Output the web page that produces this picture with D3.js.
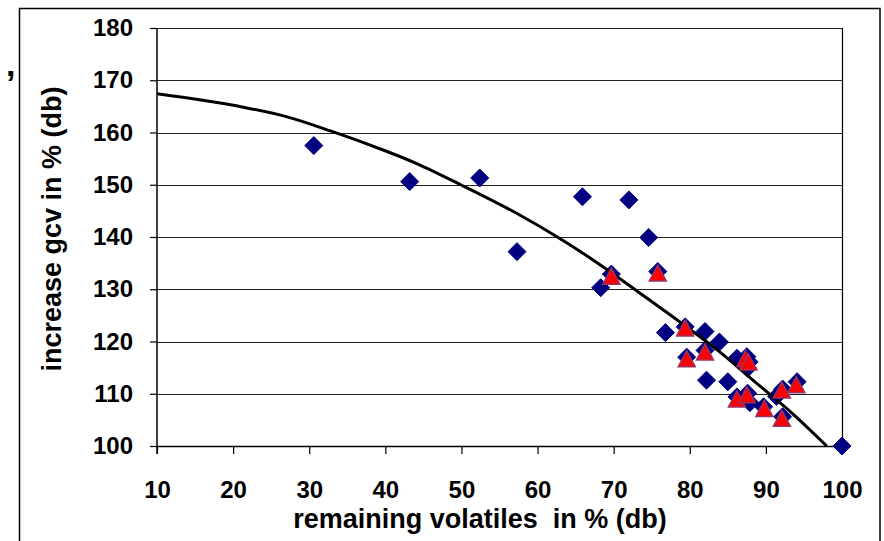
<!DOCTYPE html>
<html>
<head>
<meta charset="utf-8">
<script src="https://cdn.jsdelivr.net/npm/d3@7"></script>
<style>
  body { margin: 0; background: #fff; }
  svg { display: block; font-family: "Liberation Sans", Arial, sans-serif; }
</style>
</head>
<body>
<div id="chart"></div>
<script>
// remaining volatiles (x) / increase gcv (y), series 1: diamonds
const diamondX = [30.6, 43.2, 52.4, 57.3, 65.9, 72.0, 74.6, 75.8, 68.3, 69.7, 76.8, 79.4, 82.0, 83.9, 79.6, 82.0, 82.2, 85.0, 86.2, 87.5, 87.8, 87.6, 86.2, 87.6, 87.9, 89.7, 91.4, 92.2, 94.1, 92.2, 100];
const diamondY = [157.5, 150.6, 151.3, 137.2, 147.7, 147.1, 139.9, 133.4, 130.3, 132.9, 121.7, 122.8, 121.9, 119.9, 117.0, 118.3, 112.6, 112.3, 116.8, 117.1, 116.1, 114.9, 109.4, 110.1, 108.3, 107.5, 109.5, 110.9, 112.3, 105.6, 100];

// series 2: triangles
const triX = [69.7, 75.8, 79.4, 79.6, 82.0, 87.3, 87.7, 86.2, 87.5, 89.8, 92.1, 94.0, 92.1];
const triY = [132.5, 133.1, 122.6, 116.7, 118.0, 116.7, 116.1, 109.0, 109.8, 107.2, 110.7, 111.7, 105.3];

// trend line
const trendX = [10, 15.8, 21.5, 27.1, 32.8, 39.8, 44.2, 49.9, 57.3, 63.4, 68.3, 73.5, 79.2, 83.6, 88.8, 93.2, 98.0];
const trendY = [167.4, 166.2, 164.8, 163.0, 160.3, 156.6, 154.0, 150.0, 144.5, 139.3, 134.6, 129.2, 123.2, 118.4, 112.0, 106.6, 100.0];

const xTicks = [10, 20, 30, 40, 50, 60, 70, 80, 90, 100];
const yTicks = [100, 110, 120, 130, 140, 150, 160, 170, 180];

const width = 884;
const height = 541;
const plotLeft = 157, plotRight = 842, plotTop = 28, plotBottom = 446;

const x = d3.scaleLinear().domain([10, 100]).range([plotLeft, plotRight]);
const y = d3.scaleLinear().domain([100, 180]).range([plotBottom, plotTop]);

const svg = d3
  .select("#chart")
  .append("svg")
  .attr("width", width)
  .attr("height", height);

// outer frame (runs off the bottom of the picture)
svg
  .append("rect")
  .attr("x", 19.5)
  .attr("y", 8.5)
  .attr("width", 860.5)
  .attr("height", 600)
  .attr("fill", "none")
  .attr("stroke", "#000")
  .attr("stroke-width", 1.5);

svg
  .append("text")
  .attr("x", 6)
  .attr("y", 76)
  .style("font-size", "34px")
  .style("font-weight", "bold")
  .text(",");

// gridlines
svg
  .append("g")
  .selectAll("line")
  .data(yTicks.filter((d) => d > 100))
  .join("line")
  .attr("x1", plotLeft)
  .attr("x2", plotRight)
  .attr("y1", (d) => Math.round(y(d)) + 0.5)
  .attr("y2", (d) => Math.round(y(d)) + 0.5)
  .attr("stroke", "#222")
  .attr("stroke-width", 1.2);

// right border of plot area
svg
  .append("line")
  .attr("x1", plotRight + 0.5)
  .attr("x2", plotRight + 0.5)
  .attr("y1", plotTop)
  .attr("y2", plotBottom)
  .attr("stroke", "#000")
  .attr("stroke-width", 1.2);

const yAxis = svg
  .append("g")
  .attr("transform", `translate(${plotLeft},0)`)
  .call(d3.axisLeft(y).tickValues(yTicks).tickSize(7).tickSizeOuter(0).tickPadding(17));

const xAxis = svg
  .append("g")
  .attr("transform", `translate(0,${plotBottom})`)
  .call(d3.axisBottom(x).tickValues(xTicks).tickSize(8).tickSizeOuter(0).tickPadding(27));

[yAxis, xAxis].forEach((a) => {
  a.select(".domain").attr("stroke", "#000").attr("stroke-width", 1.5);
  a.selectAll(".tick line").attr("stroke", "#000").attr("stroke-width", 1.2);
  a.selectAll("text")
    .attr("fill", "#000")
    .style("font-size", "24px")
    .style("font-weight", "bold")
    .style("font-family", "'Liberation Sans', Arial, sans-serif");
});
// y axis extends down to the tick length, as in the picture
yAxis.select(".domain").attr("d", `M0,${plotTop}V${plotBottom + 8}`);

// clip for trend line
svg
  .append("clipPath")
  .attr("id", "plot-clip")
  .append("rect")
  .attr("x", plotLeft)
  .attr("y", plotTop)
  .attr("width", plotRight - plotLeft)
  .attr("height", plotBottom - plotTop);

const trend = trendX.map((d, i) => [d, trendY[i]]);
const line = d3
  .line()
  .x((d) => x(d[0]))
  .y((d) => y(d[1]))
  .curve(d3.curveCatmullRom);

const diamonds = diamondX.map((d, i) => [d, diamondY[i]]);
const tris = triX.map((d, i) => [d, triY[i]]);

const dHalf = 9;
svg
  .append("g")
  .selectAll("path")
  .data(diamonds)
  .join("path")
  .attr("transform", (d) => `translate(${x(d[0])},${y(d[1])})`)
  .attr("d", `M0,${-dHalf}L${dHalf},0L0,${dHalf}L${-dHalf},0Z`)
  .attr("fill", "#000080")
  .attr("stroke", "#000080")
  .attr("stroke-width", 1);

svg
  .append("path")
  .datum(trend)
  .attr("clip-path", "url(#plot-clip)")
  .attr("d", line)
  .attr("fill", "none")
  .attr("stroke", "#000")
  .attr("stroke-width", 3);

const tw = 8.5, th = 8;
svg
  .append("g")
  .selectAll("path")
  .data(tris)
  .join("path")
  .attr("transform", (d) => `translate(${x(d[0])},${y(d[1])})`)
  .attr("d", `M0,${-th}L${tw},${th}L${-tw},${th}Z`)
  .attr("fill", "#ff0000")
  .attr("stroke", "#993366")
  .attr("stroke-width", 1.5);

// axis titles
svg
  .append("text")
  .attr("transform", "translate(61,229) rotate(-90)")
  .attr("text-anchor", "middle")
  .style("font-size", "27px")
  .style("font-weight", "bold")
  .text("increase gcv in % (db)");

svg
  .append("text")
  .attr("x", 480)
  .attr("y", 528)
  .attr("text-anchor", "middle")
  .style("font-size", "27px")
  .style("font-weight", "bold")
  .style("white-space", "pre")
  .text("remaining volatiles  in % (db)");
</script>
</body>
</html>
